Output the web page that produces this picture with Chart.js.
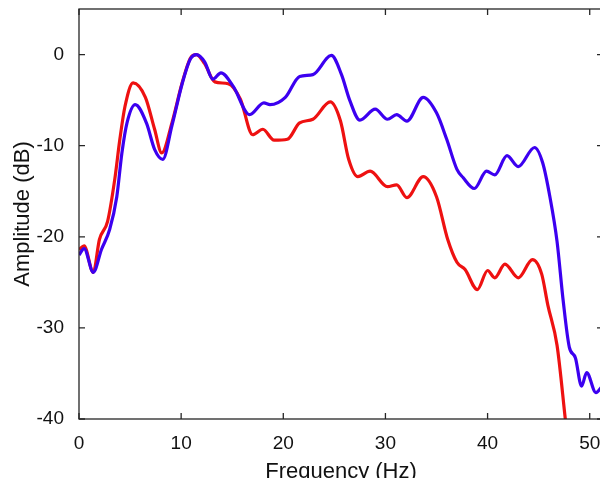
<!DOCTYPE html>
<html>
<head>
<meta charset="utf-8">
<script src="https://cdn.jsdelivr.net/npm/chart.js@4.4.0/dist/chart.umd.min.js"></script>
<style>
    body { margin: 0; background: #fff; }
    #wrap { width: 600px; height: 478px; overflow: hidden; position: relative; }
    canvas { position: absolute; left: 0; top: 0; }
</style>
</head>
<body>
<div id="wrap"><canvas id="myChart" width="612" height="486"></canvas></div>
<script>
// blue curve
const blueFreq = [0, 0.5, 1.4, 2.2, 3.0, 3.7, 4.2, 4.7, 5.5, 6.6, 7.4, 8.2, 9.1, 10.1, 10.9, 11.5,
    12.3, 13.1, 13.9, 15.1, 16.7, 18.1, 18.7, 20.2, 21.6, 22.9, 24.7, 25.7, 26.5, 27.5, 29.0,
    30.2, 31.1, 32.1, 33.7, 35.0, 36.0, 37.0, 37.6, 38.7, 39.9, 40.7, 41.9, 43.0, 44.6, 45.4,
    46.1, 46.8, 47.4, 48.0, 48.6, 49.2, 49.7, 50.6, 51.3];
const blueAmp = [-22.0, -21.3, -23.9, -21.4, -19.2, -15.6, -10.8, -7.5, -5.5, -7.5, -10.4, -11.5, -7.8, -3.2, -0.5, 0,
    -0.8, -2.7, -2.0, -3.5, -6.6, -5.3, -5.5, -4.7, -2.4, -2.2, -0.1, -2.2, -5.0, -7.2, -6.0,
    -7.1, -6.6, -7.3, -4.7, -6.4, -9.3, -12.6, -13.5, -14.7, -12.8, -13.2, -11.1, -12.3, -10.2, -11.9,
    -15.6, -20.5, -27.0, -32.1, -33.3, -36.4, -34.9, -37.1, -36.3];

// red curve
const redFreq = [0, 0.5, 1.4, 2.0, 2.8, 3.5, 4.0, 4.5, 5.3, 6.5, 7.4, 8.1, 9.1, 10.1, 10.9, 11.5,
    12.3, 13.3, 14.6, 15.8, 17.0, 18.0, 19.1, 20.4, 21.6, 22.9, 24.6, 25.6, 26.4, 27.3, 28.5,
    30.2, 31.1, 32.1, 33.7, 35.0, 36.1, 37.0, 37.8, 39.0, 40.0, 40.7, 41.7, 43.0, 44.4, 45.3,
    45.9, 46.8, 47.6, 47.9];
const redAmp = [-21.4, -21.0, -23.9, -20.3, -18.3, -13.7, -9.3, -5.7, -3.1, -4.7, -8.2, -10.8, -7.5, -3.1, -0.4, 0,
    -1.0, -3.0, -3.2, -4.9, -8.8, -8.2, -9.4, -9.3, -7.5, -7.1, -5.2, -7.3, -11.5, -13.4, -12.8,
    -14.5, -14.3, -15.7, -13.4, -15.6, -20.3, -22.8, -23.6, -25.8, -23.7, -24.5, -23.0, -24.5, -22.5, -24.1,
    -27.5, -31.9, -39.9, -43.0];

const xTicks = [0, 10, 20, 30, 40, 50];
const yTicks = [-40, -30, -20, -10, 0];

function toPoints(xs, ys) {
    return xs.map((x, i) => ({ x: x, y: ys[i] }));
}

// box round the plot with inward ticks on all four sides
const framePlugin = {
    id: "frame",
    afterDatasetsDraw(chart) {
        const { ctx, chartArea: a, scales } = chart;
        const len = 6;
        ctx.save();
        ctx.strokeStyle = "#262626";
        ctx.lineWidth = 1.3;
        ctx.strokeRect(a.left, a.top, a.right - a.left, a.bottom - a.top);
        ctx.beginPath();
        xTicks.forEach(v => {
            const px = scales.x.getPixelForValue(v);
            ctx.moveTo(px, a.bottom); ctx.lineTo(px, a.bottom - len);
            ctx.moveTo(px, a.top); ctx.lineTo(px, a.top + len);
        });
        yTicks.forEach(v => {
            const py = scales.y.getPixelForValue(v);
            ctx.moveTo(a.left, py); ctx.lineTo(a.left + len, py);
            ctx.moveTo(a.right, py); ctx.lineTo(a.right - len, py);
        });
        ctx.stroke();
        ctx.restore();
    }
};

const tickFont = { family: "'Liberation Sans', Arial, sans-serif", size: 19 };
const titleFont = { family: "'Liberation Sans', Arial, sans-serif", size: 22 };

new Chart("myChart", {
    type: "line",
    data: {
        datasets: [
            {
                data: toPoints(blueFreq, blueAmp),
                borderColor: "#3c00f0",
                borderWidth: 3.2,
                pointRadius: 0,
                cubicInterpolationMode: "monotone"
            },
            {
                data: toPoints(redFreq, redAmp),
                borderColor: "#ee1111",
                borderWidth: 3.2,
                pointRadius: 0,
                cubicInterpolationMode: "monotone"
            }
        ]
    },
    options: {
        responsive: false,
        animation: false,
        layout: { padding: { top: 9, right: 9, left: 0, bottom: 0 } },
        plugins: {
            legend: { display: false },
            tooltip: { enabled: false }
        },
        scales: {
            x: {
                type: "linear",
                min: 0,
                max: 51.3,
                grid: { display: false },
                border: { display: false },
                ticks: {
                    stepSize: 10,
                    includeBounds: false,
                    autoSkip: false,
                    maxRotation: 0,
                    padding: 5,
                    color: "#111",
                    font: tickFont
                },
                title: {
                    display: true,
                    text: "Frequency (Hz)",
                    color: "#111",
                    font: titleFont,
                    padding: { top: 0, bottom: 1 }
                },
                afterFit(scale) {
                    scale.height = 67;
                    scale.paddingLeft = 0;
                    scale.paddingRight = 0;
                }
            },
            y: {
                min: -40,
                max: 5,
                grid: { display: false },
                border: { display: false },
                ticks: {
                    stepSize: 10,
                    includeBounds: false,
                    padding: 7,
                    color: "#111",
                    font: tickFont
                },
                title: {
                    display: true,
                    text: "Amplitude (dB)",
                    color: "#111",
                    font: titleFont,
                    padding: { top: 10, bottom: 0 }
                },
                afterFit(scale) {
                    scale.width = 79;
                    scale.paddingTop = 0;
                    scale.paddingBottom = 0;
                }
            }
        }
    },
    plugins: [framePlugin]
});
</script>
</body>
</html>
